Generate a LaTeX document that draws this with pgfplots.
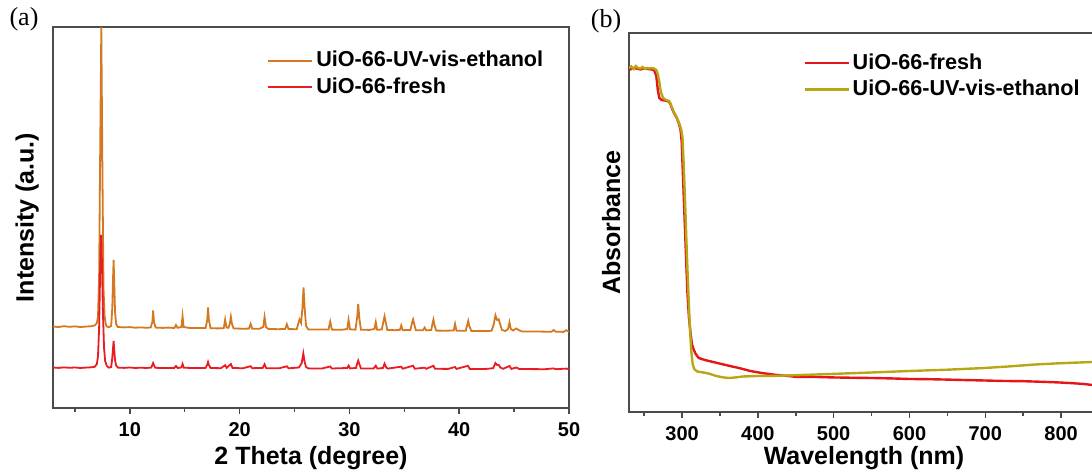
\documentclass[border=0pt]{standalone}
\usepackage{fontspec}
\setmainfont{Liberation Sans}
\newfontfamily\panelfont{Liberation Serif}
\usepackage{pgfplots}
\pgfplotsset{compat=1.18}

\definecolor{axisgray}{RGB}{75,75,75}
\definecolor{xrdorange}{RGB}{212,121,33}
\definecolor{xrdred}{RGB}{232,28,34}
\definecolor{uvred}{RGB}{230,22,22}
\definecolor{uvolive}{RGB}{183,166,22}

\pgfplotsset{
  panel/.style={
    scale only axis,
    anchor=south west,
    ytick=\empty,
    tick align=outside,
    xtick pos=lower,
    major tick length=3pt,
    minor tick length=2pt,
    every tick/.style={line width=0.75pt, color=axisgray},
    axis line style={line width=0.75pt, color=axisgray},
    tick label style={font=\bfseries\fontsize{10}{12}\selectfont},
    xticklabel style={yshift=-0.5pt},
    /pgf/number format/assume math mode=true,
    label style={font=\bfseries\fontsize{12.5}{15}\selectfont},
    legend cell align=left,
    legend image code/.code={\draw (0pt,0pt) -- (22pt,0pt);},
    legend style={draw=none, fill=none, inner sep=0pt, row sep=1pt,
      font=\bfseries\fontsize{10.8}{12.8}\selectfont,
      nodes={inner sep=1.5pt}},
  },
}

\begin{document}
\begin{tikzpicture}
\path[use as bounding box] (0,0) rectangle (546pt,237.5pt);

% (a) powder XRD patterns
\begin{axis}[panel,
  at={(26.5pt,33.5pt)}, width=258pt, height=190.5pt,
  xmin=3, xmax=50, ymin=0, ymax=381,
  xtick={10,20,30,40,50}, minor xtick={5,15,25,35,45},
  xlabel={2 Theta (degree)},
  xlabel style={at={(axis description cs:0.5,-0.132)}, anchor=center},
  ylabel={Intensity (a.u.)},
  ylabel style={at={(axis description cs:-0.05,0.5)}, anchor=center},
  legend style={at={(0.415,0.945)}, anchor=north west},
]
\addplot[xrdorange, line width=0.9pt] coordinates {
(3.0,81.5)(3.5,81.0)(4.0,81.8)(4.5,81.2)(5.0,81.6)(5.5,81.0)(6.0,81.4)(6.5,81.8)
(6.8,82.5)(7.0,85)(7.1,92)(7.2,130)(7.3,260)(7.4,381)(7.5,240)(7.6,120)(7.7,92)
(7.8,84)(7.9,81.5)(8.1,80.8)(8.3,82)(8.4,100)(8.47,130)(8.52,148)(8.58,125)
(8.65,96)(8.75,84)(8.9,81)(9.5,80.6)(10.0,80.9)(10.5,80.3)(11.0,80.6)(11.5,80.2)
(11.9,80.5)(12.05,86)(12.12,97.5)(12.2,86)(12.35,80.4)(13.0,80.1)(13.5,80.4)
(14.05,80.0)(14.2,83)(14.35,80.2)(14.7,81)(14.8,91.7)(14.9,81)(15.5,79.9)
(16.2,80.1)(16.9,80.0)(17.05,88)(17.12,100.5)(17.2,88)(17.35,79.8)(18.0,79.6)
(18.55,79.8)(18.68,88.4)(18.8,80.5)(18.98,80.2)(19.1,84)(19.2,91.3)(19.3,84)
(19.45,79.5)(20.3,79.3)(20.85,79.4)(21.0,84.1)(21.15,79.3)(21.8,79.2)(22.15,81)
(22.27,91.0)(22.4,81)(22.6,79.1)(23.5,78.8)(24.15,79)(24.3,83.8)(24.45,78.9)
(25.2,78.8)(25.45,88.6)(25.6,85)(25.72,100)(25.82,120.6)(25.92,100)(26.05,82)
(26.25,78.6)(27.2,78.4)(28.1,78.6)(28.25,86.3)(28.4,78.4)(29.3,78.2)(29.8,79)
(29.92,88.1)(30.05,78.7)(30.55,78.3)(30.7,90)(30.8,104)(30.9,90)(31.05,78.3)
(31.8,78.1)(32.28,79)(32.4,85.9)(32.52,78.2)(32.95,78.5)(33.12,88)(33.2,91.8)
(33.3,86)(33.45,78)(34.2,77.8)(34.6,78.2)(34.72,82.6)(34.85,77.8)(35.55,78)
(35.72,86)(35.8,88.6)(35.9,84)(36.05,77.7)(36.7,77.7)(36.85,80.4)(37.0,77.6)
(37.45,78)(37.58,85)(37.65,88.4)(37.75,83)(37.9,77.4)(38.8,77.3)(39.5,77.5)
(39.62,84.1)(39.75,77.3)(40.6,77.3)(40.75,84)(40.82,87)(40.92,82)(41.1,77.1)
(42.2,76.9)(42.95,77.2)(43.15,84)(43.3,92.7)(43.45,88)(43.6,88.7)(43.72,84)
(43.9,78)(44.2,77)(44.45,79)(44.58,85.6)(44.7,79)(44.9,77.5)(45.2,79.5)(45.4,78)
(45.7,76.6)(46.5,76.4)(47.5,76.4)(48.4,76.2)(48.6,78)(48.8,76.3)(49.5,76.1)
(49.75,77.8)(50.0,76.2)
};
\addlegendentry{UiO-66-UV-vis-ethanol}
\addplot[xrdred, line width=0.9pt] coordinates {
(3.0,40.5)(3.5,40.1)(4.0,40.6)(4.5,40.2)(5.0,40.5)(5.5,40.0)(6.0,40.4)(6.5,40.7)
(6.8,41.2)(7.0,44)(7.1,52)(7.2,80)(7.3,140)(7.38,173)(7.45,150)(7.55,95)(7.65,60)
(7.75,47)(7.9,42)(8.1,40.3)(8.3,41)(8.4,50)(8.47,60)(8.52,67)(8.58,58)(8.65,48)
(8.75,42.5)(8.9,40.4)(9.5,40.1)(10.0,40.5)(10.5,40.0)(11.0,40.3)(11.5,40.0)
(11.95,40.4)(12.12,45)(12.3,40.2)(13.0,40.0)(14.05,40.1)(14.2,42)(14.35,40.0)
(14.7,40.5)(14.8,44)(14.92,40.3)(15.8,39.9)(16.9,40.0)(17.05,43.5)(17.12,46)
(17.2,43)(17.35,40.0)(18.3,39.8)(18.68,42.8)(18.82,40.1)(19.2,44)(19.35,40.1)
(20.3,39.7)(21.0,41.8)(21.15,39.8)(22.1,40.1)(22.27,43.8)(22.42,39.8)(23.6,39.7)
(24.3,41.7)(24.45,39.7)(25.4,40.5)(25.52,42.5)(25.65,45)(25.8,54.6)(25.92,46)
(26.05,41)(26.25,39.6)(27.5,39.5)(28.25,41.5)(28.4,39.5)(29.8,40)(29.92,42.4)
(30.05,39.6)(30.6,40)(30.72,45)(30.8,47.4)(30.9,44)(31.05,39.6)(32.2,39.5)
(32.4,42.3)(32.55,39.4)(33.05,40)(33.2,44.3)(33.35,40.5)(33.5,39.4)(34.72,41.3)
(34.85,39.3)(35.8,42.3)(35.95,39.3)(36.85,40.3)(37.0,39.2)(37.65,42.2)(37.8,39.2)
(39.0,39.1)(39.62,41)(39.75,39.1)(40.8,42.2)(40.95,39.1)(42.4,39.0)(43.1,39.8)
(43.3,45)(43.45,43)(43.6,43)(43.75,40.5)(44.0,39.2)(44.58,42)(44.75,39.1)
(45.2,40.5)(45.45,39.1)(46.5,38.9)(47.8,38.8)(48.6,39.6)(48.8,38.8)(49.75,39.4)
(50.0,38.8)
};
\addlegendentry{UiO-66-fresh}
\end{axis}

% (b) UV-vis absorbance spectra
\begin{axis}[panel,
  at={(314.5pt,31.5pt)}, width=235pt, height=189.5pt,
  xmin=230, xmax=850, ymin=0, ymax=379,
  xtick={300,400,500,600,700,800}, minor xtick={250,350,450,550,650,750,850},
  xlabel={Wavelength (nm)},
  xlabel style={at={(axis description cs:0.5,-0.122)}, anchor=center},
  ylabel={Absorbance},
  ylabel style={at={(axis description cs:-0.038,0.5)}, anchor=center},
  legend style={at={(0.37,0.955)}, anchor=north west},
]
\addplot[uvred, line width=1.2pt] coordinates {
(230,342)(235,344)(240,343.5)(245,342.5)(250,343.5)(255,343)(260,342.5)(263,342)
(266,336)(268,322)(270,314)(273,312)(277,311.5)(281,311)(284,309)(287,303)(290,298)
(293,294)(296,288)(298,282)(299.5,270)(301,240)(303,200)(305,160)(307,120)(309,95)
(311,80)(313,68)(315,63)(318,58)(322,54)(330,52)(341,50)(352,48)(363,46)(375,44)
(390,41)(405,39)(425,37)(440,36)(452,35)(470,35.2)(496,34.6)(520,34.3)(550,34)
(575,33.6)(600,33)(625,32.8)(650,32.4)(675,31.9)(699,31.5)(725,31)(750,30.8)
(775,30.2)(798,29.5)(815,28.8)(830,28)(841,27)(850,26.5)
};
\addlegendentry{UiO-66-fresh}
\addplot[uvolive, line width=1.2pt] coordinates {
(230,344)(233,345.5)(236,343)(239,346)(242,344)(245,343.5)(248,345)(251,343)
(254,344)(257,343.5)(260,344)(263,343.5)(266,342)(268,338)(270,330)(272,320)
(275,314)(279,312)(283,311)(286,306)(289,300)(292,296)(295,291)(297,287)(299,282)
(300.5,275)(302,250)(304,210)(306,165)(308,125)(310,90)(312,62)(314,48)(316,43)
(320,40.5)(328,39.5)(335,38.5)(345,36)(355,34.5)(362,34)(370,34.5)(380,35.5)
(399,36)(425,36.2)(450,36.8)(496,38)(550,39.5)(600,41)(650,42.3)(699,44)(730,45.5)
(766,47.5)(800,48.8)(841,50)(850,50.5)
};
\addlegendentry{UiO-66-UV-vis-ethanol}
\end{axis}

% panel letters
\node[font=\panelfont\fontsize{13}{15}\selectfont] at (12pt,228pt) {(a)};
\node[font=\panelfont\fontsize{13}{15}\selectfont] at (303pt,227pt) {(b)};
\end{tikzpicture}
\end{document}
